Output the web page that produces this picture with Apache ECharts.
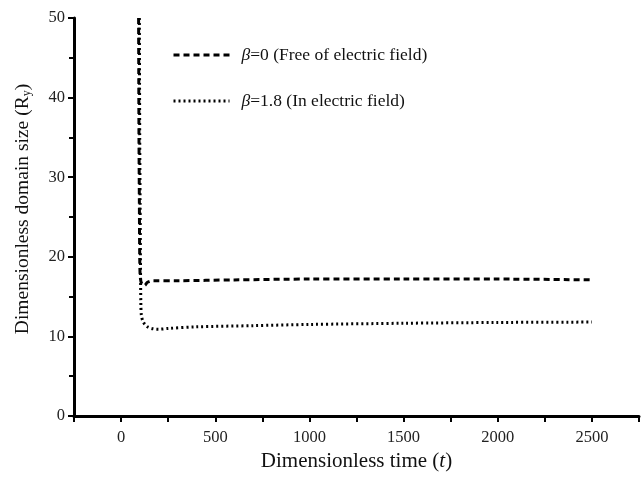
<!DOCTYPE html>
<html>
<head>
<meta charset="utf-8">
<script src="https://cdn.jsdelivr.net/npm/echarts@6/dist/echarts.min.js"></script>
<style>html,body{margin:0;padding:0;background:#fff;}#c{width:642px;height:489px;}</style>
</head>
<body>
<div id="c"></div>
<script>
// β = 0 (free of electric field): [t, Ry]
const beta0 = [[93,50],[94,42],[95,35],[97,27],[99,20],[102,17.4],[110,16.6],[125,16.4],[140,16.8],[170,17.0],[300,17.0],[600,17.1],[1000,17.2],[1500,17.2],[2000,17.2],[2500,17.1]];
// β = 1.8 (in electric field): [t, Ry]
const beta18 = [[97,50],[98,42],[99,35],[101,27],[103,19],[105,14],[108,12.6],[118,11.8],[140,11.2],[170,10.95],[200,10.9],[250,11.0],[400,11.2],[700,11.35],[1000,11.5],[1500,11.65],[2000,11.75],[2500,11.8]];
const seriesNames = ['β=0 (Free of electric field)', 'β=1.8 (In electric field)'];
const xTickLabels = [0, 500, 1000, 1500, 2000, 2500];
const yTickLabels = [0, 10, 20, 30, 40, 50];

const font = 'Liberation Serif';
const chart = echarts.init(document.getElementById('c'));
chart.setOption({
  backgroundColor: '#fff',
  animation: false,
  grid: { left: 74, top: 18, bottom: 73, right: -7 },
  legend: {
    orient: 'vertical', left: 167, top: 41, itemWidth: 56, itemHeight: 10, itemGap: 28,
    itemStyle: { opacity: 0 },
    lineStyle: { width: 3, opacity: 1 },
    textStyle: {
      fontFamily: font, fontSize: 17.5, color: '#111', padding: [0, 0, 0, 7],
      rich: { b: { fontFamily: font, fontSize: 17.5, fontStyle: 'italic', color: '#111' }, t: { fontFamily: font, fontSize: 17.5, color: '#111' } }
    },
    formatter: function (n) { return '{b|β}{t|' + n.slice(1) + '}'; },
    data: seriesNames
  },
  xAxis: {
    type: 'value', min: -250, max: 2750, interval: 250,
    axisLine: { show: true, onZero: false, lineStyle: { color: '#000', width: 3 } },
    axisTick: { show: true, inside: false, length: 6, lineStyle: { color: '#000', width: 2 } },
    splitLine: { show: false },
    axisLabel: {
      margin: 13, fontFamily: font, fontSize: 16.5, color: '#222',
      formatter: function (v) { return xTickLabels.indexOf(v) >= 0 ? String(v) : ''; }
    },
    name: 'Dimensionless time ({i|t})', nameLocation: 'middle', nameGap: 30,
    nameTextStyle: { fontFamily: font, fontSize: 21, color: '#111', rich: { i: { fontFamily: font, fontSize: 21, fontStyle: 'italic', color: '#111' } } }
  },
  yAxis: {
    type: 'value', min: 0, max: 50, interval: 10,
    axisLine: { show: true, onZero: false, lineStyle: { color: '#000', width: 3 } },
    axisTick: { show: true, inside: false, length: 6, lineStyle: { color: '#000', width: 2 } },
    minorTick: { show: true, splitNumber: 2, length: 5, lineStyle: { color: '#000', width: 2 } },
    splitLine: { show: false },
    axisLabel: {
      margin: 9, fontFamily: font, fontSize: 16.5, color: '#222',
      formatter: function (v) { return yTickLabels.indexOf(v) >= 0 ? String(v) : ''; }
    },
    name: 'Dimensionless domain size (R{s|y})', nameLocation: 'middle', nameGap: 41,
    nameTextStyle: { fontFamily: font, fontSize: 19.5, color: '#111', padding: [0, 0, 0, 16], rich: { s: { fontFamily: font, fontSize: 12, color: '#111', verticalAlign: 'bottom', padding: [9, 0, 0, 0] } } }
  },
  series: [
    { name: seriesNames[0], type: 'line', data: beta0, showSymbol: false, symbol: 'none', smooth: 0.3,
      lineStyle: { color: '#000', width: 3, type: [6, 4] }, itemStyle: { color: '#000' } },
    { name: seriesNames[1], type: 'line', data: beta18, showSymbol: false, symbol: 'none', smooth: 0.3,
      lineStyle: { color: '#000', width: 3, type: [2, 3] }, itemStyle: { color: '#000' } }
  ]
});
</script>
</body>
</html>
